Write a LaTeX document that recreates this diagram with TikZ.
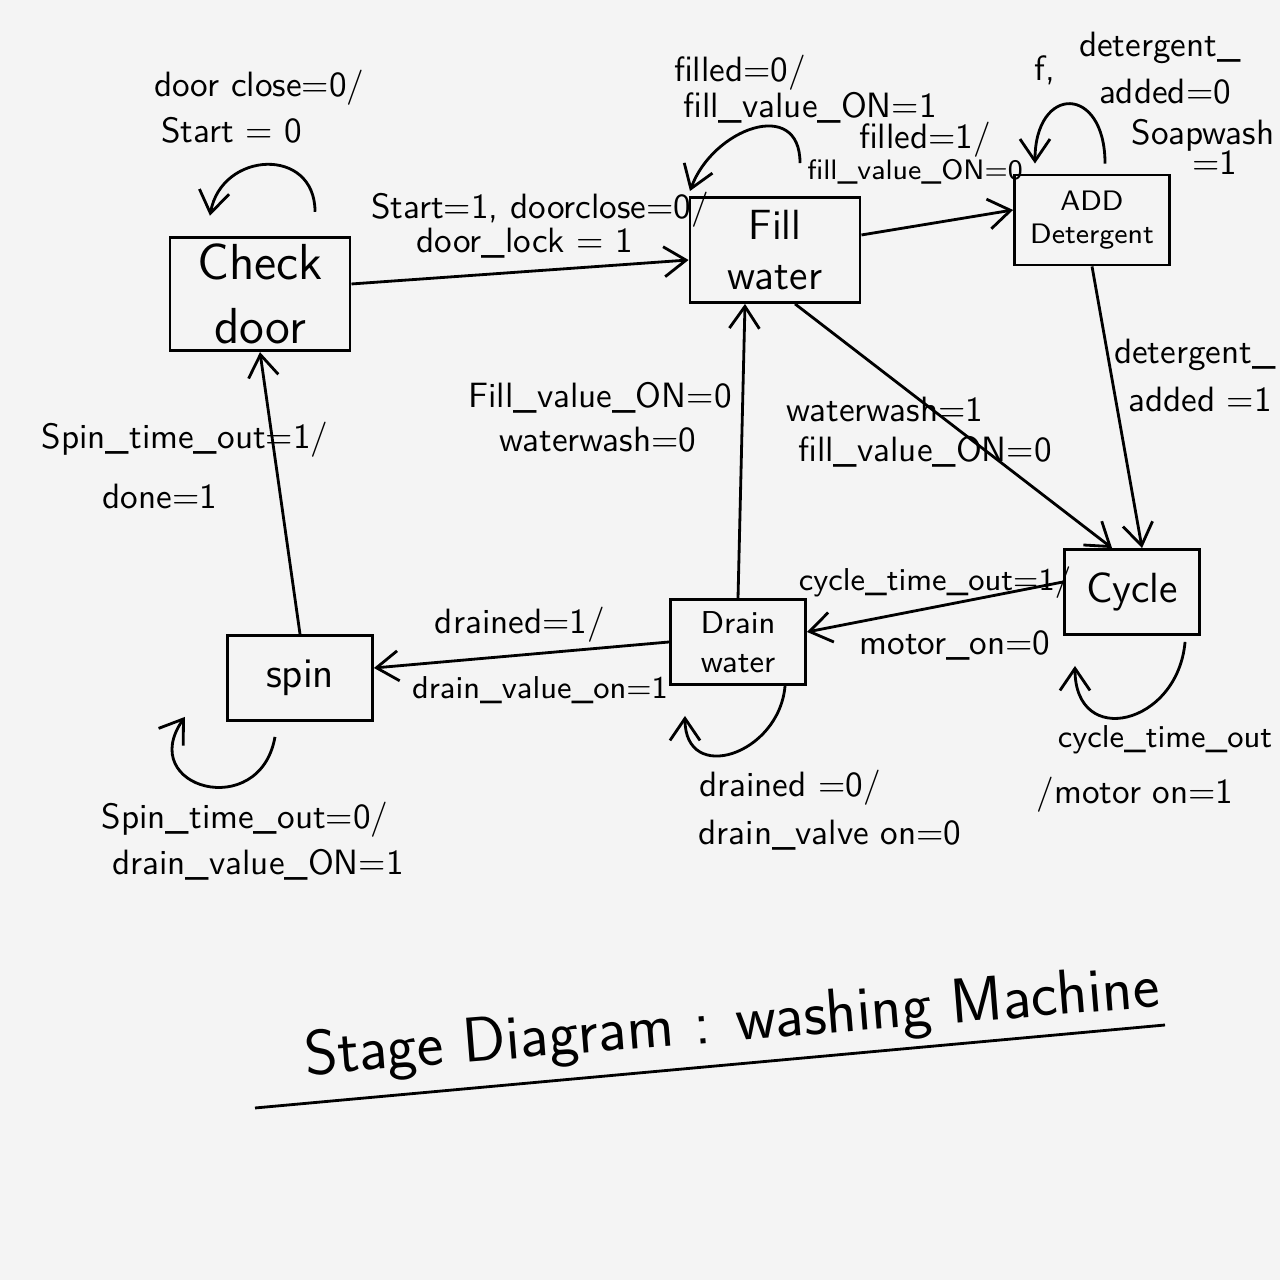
\documentclass[tikz,border=0pt]{standalone}
\usetikzlibrary{arrows.meta}
\begin{document}
\begin{tikzpicture}[x=.01cm,y=.01cm,font=\sffamily,
  state/.style={draw,thick,minimum width=#1,minimum height=.85cm,align=center,inner sep=2pt},
  state/.default=1.4cm,
  lbl/.style={inner sep=1pt},
  edge/.style={thick,-{Straight Barb[length=2.2mm,width=3mm]}}]
\fill[gray!9] (0,0) rectangle (1280,1280);
% states
\node[state=1.8cm,minimum height=1.12cm,font=\sffamily\Large] (check) at (260,986) {Check\\door};
\node[state=1.7cm,minimum height=1.05cm,font=\sffamily\large] (fill) at (775,1030) {Fill\\water};
\node[state=1.55cm,minimum height=.9cm,font=\sffamily\footnotesize] (add) at (1092,1060) {ADD\\Detergent};
\node[state=1.35cm,font=\sffamily\large] (cycle) at (1132,688) {Cycle};
\node[state=1.35cm,font=\sffamily\small] (drain) at (738,638) {Drain\\water};
\node[state=1.45cm,font=\sffamily\large] (spin) at (300,602) {spin};
% transitions
\draw[edge] ([yshift=1mm]check.east) -- ([yshift=-1mm]fill.west);
\draw[edge] ([yshift=1.5mm]fill.east) -- ([yshift=1mm]add.west);
\draw[edge] (add.south) -- ([xshift=1mm]cycle.north);
\draw[edge] ([xshift=2mm]fill.south) -- ([xshift=-2mm]cycle.north);
\draw[edge] ([yshift=1mm]cycle.west) -- ([yshift=1mm]drain.east);
\draw[edge] (drain.north) -- ([xshift=-3mm]fill.south);
\draw[edge] (drain.west) -- ([yshift=1mm]spin.east);
\draw[edge] (spin.north) -- (check.south);
% self loops
\draw[edge] ([xshift=5.5mm,yshift=2.4mm]check.north) to[out=90,in=80,looseness=1.6] ([xshift=-5mm,yshift=2mm]check.north);
\draw[edge] ([xshift=2.5mm,yshift=3.3mm]fill.north) to[out=90,in=70,looseness=1.5] ([xshift=-8.5mm,yshift=.5mm]fill.north);
\draw[edge] ([xshift=1.3mm,yshift=1mm]add.north) to[out=90,in=90,looseness=2.9] ([xshift=-5.7mm,yshift=1mm]add.north);
\draw[edge] ([xshift=5.3mm,yshift=-.6mm]cycle.south) to[out=-95,in=-90,looseness=1.9] ([xshift=-5.7mm,yshift=-3mm]cycle.south);
\draw[edge] ([xshift=4.7mm]drain.south) to[out=-95,in=-90,looseness=1.7] ([xshift=-5.3mm,yshift=-3mm]drain.south);
\draw[edge] ([xshift=-2.5mm,yshift=-1.5mm]spin.south) to[out=-100,in=235,looseness=2.4] ([xshift=-11.5mm,yshift=.5mm]spin.south);
% labels
\node[lbl,anchor=west] (lc1) at (150,1192) {door close=0/};
\node[lbl,anchor=west] (lc2) at (157,1150) {Start = 0};
\node[lbl] (ls1) at (540,1070) {Start=1, doorclose=0/};
\node[lbl] (ls2) at (525,1037) {door\_lock = 1};
\node[lbl] (lf1) at (740,1207) {filled=0/};
\node[lbl] (lf2) at (810,1172) {fill\_value\_ON=1};
\node[lbl] (la1) at (925,1140) {filled=1/};
\node[lbl,font=\sffamily\footnotesize] (la2) at (915,1108) {fill\_value\_ON=0};
\node[lbl] (ld0) at (1045,1210) {f,};
\node[lbl] (ld1) at (1160,1232) {detergent\_};
\node[lbl] (ld2) at (1165,1188) {added=0};
\node[lbl] (ld3) at (1203,1145) {Soapwash};
\node[lbl] (ld4) at (1215,1117) {=1};
\node[lbl] (lk1) at (1195,925) {detergent\_};
\node[lbl] (lk2) at (1200,880) {added =1};
\node[lbl] (lw1) at (885,870) {waterwash=1};
\node[lbl] (lw2) at (925,828) {fill\_value\_ON=0};
\node[lbl] (lr1) at (600,882) {Fill\_value\_ON=0};
\node[lbl] (lr2) at (598,840) {waterwash=0};
\node[lbl,font=\sffamily\small] (lt1) at (935,697) {cycle\_time\_out=1/};
\node[lbl] (lt2) at (955,635) {motor\_on=0};
\node[lbl] (ln1) at (520,655) {drained=1/};
\node[lbl,font=\sffamily\small] (ln2) at (540,590) {drain\_value\_on=1};
\node[lbl] (lp1) at (185,840) {Spin\_time\_out=1/};
\node[lbl] (lp2) at (160,783) {done=1};
\node[lbl,font=\sffamily\small] (lq1) at (1165,540) {cycle\_time\_out};
\node[lbl] (lq2) at (1135,485) {/motor on=1};
\node[lbl] (lm1) at (790,492) {drained =0/};
\node[lbl] (lm2) at (830,445) {drain\_valve on=0};
\node[lbl] (lo1) at (245,460) {Spin\_time\_out=0/};
\node[lbl] (lo2) at (258,415) {drain\_value\_ON=1};
% title
\node[rotate=4.6,font=\sffamily\fontsize{18}{22}\selectfont] (title) at (732,255) {Stage Diagram : washing Machine};
\draw[thick] (255,172) -- (1165,255);
\end{tikzpicture}
\end{document}
